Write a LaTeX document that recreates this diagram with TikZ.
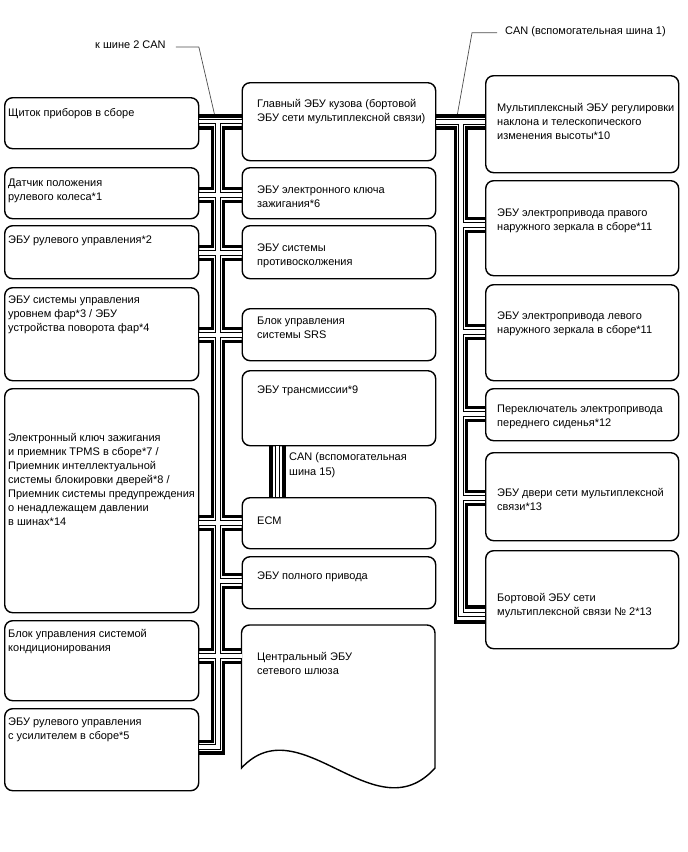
\documentclass[tikz,border=0pt]{standalone}
\usepackage{fontspec}
\setmainfont{Liberation Sans}
\begin{document}
\begin{tikzpicture}[x=1pt,y=-1pt,
  box/.style={draw, line width=1.4, rounded corners=8, inner sep=0, anchor=north west},
  ghost/.style={inner sep=0, anchor=north west},
  txt/.style={anchor=north west, align=left, inner sep=0, font=\fontsize{11}{14}\selectfont},
  thk/.style={line width=3.3},
  dbl/.style={line width=1, double=white, double distance=3.2},
  lead/.style={draw=black!70, line width=0.7}]
\useasboundingbox (0,0) rectangle (688,852);
\def\xL{212.3}\def\xC{218}\def\xR{223.7}
\def\xLL{455.2}\def\xCC{461}\def\xRR{466.8}

% boxes (left column)
\node[box, minimum width=194, minimum height=51]  (L1) at (4,97) {};
\node[box, minimum width=194, minimum height=51]  (L2) at (4,167) {};
\node[box, minimum width=194, minimum height=53]  (L3) at (4,225) {};
\node[box, minimum width=194, minimum height=93]  (L4) at (4,287) {};
\node[box, minimum width=194, minimum height=224] (L5) at (4,388) {};
\node[box, minimum width=194, minimum height=80]  (L6) at (4,620) {};
\node[box, minimum width=194, minimum height=82]  (L7) at (4,708) {};
% middle column
\node[box, minimum width=193.5, minimum height=78] (M1) at (241.5,82) {};
\node[box, minimum width=193.5, minimum height=51] (M2) at (241.5,167) {};
\node[box, minimum width=193.5, minimum height=53] (M3) at (241.5,225) {};
\node[box, minimum width=193.5, minimum height=52] (M4) at (241.5,308) {};
\node[box, minimum width=193.5, minimum height=75] (M5) at (241.5,370) {};
\node[box, minimum width=193.5, minimum height=51] (ECM) at (241.5,497) {};
\node[box, minimum width=193.5, minimum height=52] (M6) at (241.5,556) {};
\node[ghost, minimum width=193.5, minimum height=143] (GW) at (241.5,625) {};
\draw[line width=1.4] (241.5,768) -- (241.5,633) arc[start angle=180, end angle=270, radius=8]
  -- (427,625) arc[start angle=270, end angle=360, radius=8] -- (435,768)
  .. controls (375,835) and (300,705) .. (241.5,768) -- cycle;
% right column
\node[box, minimum width=193, minimum height=97] (R1) at (485,75) {};
\node[box, minimum width=193, minimum height=95] (R2) at (485,180) {};
\node[box, minimum width=193, minimum height=96] (R3) at (485,284) {};
\node[box, minimum width=193, minimum height=52] (R4) at (485,388) {};
\node[box, minimum width=193, minimum height=88] (R5) at (485,452) {};
\node[box, minimum width=193, minimum height=98] (R6) at (485,550) {};

% texts
\node[txt] (tL1) at (8,108) {Щиток приборов в сборе};
\node[txt] (tL2) at (8,179) {Датчик положения\\рулевого колеса*1};
\node[txt] (tL3) at (8,236) {ЭБУ рулевого управления*2};
\node[txt] (tL4) at (8,296) {ЭБУ системы управления\\уровнем фар*3 / ЭБУ\\устройства поворота фар*4};
\node[txt] (tL5) at (8,433) {Электронный ключ зажигания\\и приемник TPMS в сборе*7 /\\Приемник интеллектуальной\\системы блокировки дверей*8 /\\Приемник системы предупреждения\\о ненадлежащем давлении\\в шинах*14};
\node[txt] (tL6) at (8,629) {Блок управления системой\\кондиционирования};
\node[txt] (tL7) at (8,718) {ЭБУ рулевого управления\\с усилителем в сборе*5};
\node[txt] (tM1) at (257,99) {Главный ЭБУ кузова (бортовой\\ЭБУ сети мультиплексной связи)};
\node[txt] (tM2) at (257,186) {ЭБУ электронного ключа\\зажигания*6};
\node[txt] (tM3) at (257,244) {ЭБУ системы\\противосколжения};
\node[txt] (tM4) at (257,317) {Блок управления\\системы SRS};
\node[txt] (tM5) at (257,386) {ЭБУ трансмиссии*9};
\node[txt] (tECM) at (257,517) {ECM};
\node[txt] (tM6) at (257,572) {ЭБУ полного привода};
\node[txt] (tGW) at (257,652) {Центральный ЭБУ\\сетевого шлюза};
\node[txt] (tR1) at (497,103) {Мультиплексный ЭБУ регулировки\\наклона и телескопического\\изменения высоты*10};
\node[txt] (tR2) at (497,209) {ЭБУ электропривода правого\\наружного зеркала в сборе*11};
\node[txt] (tR3) at (497,312) {ЭБУ электропривода левого\\наружного зеркала в сборе*11};
\node[txt] (tR4) at (497,405) {Переключатель электропривода\\переднего сиденья*12};
\node[txt] (tR5) at (497,488) {ЭБУ двери сети мультиплексной\\связи*13};
\node[txt] (tR6) at (497,593) {Бортовой ЭБУ сети\\мультиплексной связи № 2*13};
\node[txt, font=\fontsize{11}{15}\selectfont] (tC15) at (289,452) {CAN (вспомогательная\\шина 15)};
\node[txt] (lab2) at (95,41) {к шине 2 CAN};
\node[txt] (lab1) at (505,26) {CAN (вспомогательная шина 1)};

% leaders
\coordinate (k2) at (215,116.5);
\coordinate (k1) at (457,116.5);
\draw[lead] ([xshift=10pt,yshift=-2pt]lab2.east) -- ++(23,0) -- (k2);
\draw[lead] ([xshift=-8pt,yshift=-1.5pt]lab1.west) -- ++(-25,0) -- (k1);

% ---- left bus ----
\draw[thk] (L1.east |- 0,116) -- (M1.west |- 0,116);
\draw[thk] (L1.east |- 0,128) -| (\xL,188.5) -- (L2.east |- 0,188.5);
\draw[thk] (L2.east |- 0,201.5) -| (\xL,246.5) -- (L3.east |- 0,246.5);
\draw[thk] (L3.east |- 0,259.5) -| (\xL,328.5) -- (L4.east |- 0,328.5);
\draw[thk] (L4.east |- 0,341.5) -| (\xL,516.5) -- (L5.east |- 0,516.5);
\draw[thk] (L5.east |- 0,529.5) -| (\xL,649.5) -- (L6.east |- 0,649.5);
\draw[thk] (L6.east |- 0,662.5) -| (\xL,741.5) -- (L7.east |- 0,741.5);
\draw[thk] (M1.west |- 0,128) -| (\xR,188.5) -- (M2.west |- 0,188.5);
\draw[thk] (M2.west |- 0,201.5) -| (\xR,246.5) -- (M3.west |- 0,246.5);
\draw[thk] (M3.west |- 0,259.5) -| (\xR,328.5) -- (M4.west |- 0,328.5);
\draw[thk] (M4.west |- 0,341.5) -| (\xR,516.5) -- (ECM.west |- 0,516.5);
\draw[thk] (ECM.west |- 0,529.5) -| (\xR,574.5) -- (M6.west |- 0,574.5);
\draw[thk] (M6.west |- 0,587.5) -| (\xR,649.5) -- (GW.west |- 0,649.5);
\draw[thk] (GW.west |- 0,662.5) -| (\xR,753) -- (L7.east |- 0,753);
\draw[dbl] (\xC,121.5) -- (\xC,747) -- (L7.east |- 0,747)
  (L1.east |- 0,121.5) -- (M1.west |- 0,121.5)
  (L2.east |- 0,195) -- (M2.west |- 0,195)
  (L3.east |- 0,253) -- (M3.west |- 0,253)
  (L4.east |- 0,335) -- (M4.west |- 0,335)
  (L5.east |- 0,523) -- (ECM.west |- 0,523)
  (\xC,581) -- (M6.west |- 0,581)
  (L6.east |- 0,656) -- (GW.west |- 0,656);

% ---- right bus ----
\draw[thk] (M1.east |- 0,116) -- (R1.west |- 0,116);
\draw[thk] (M1.east |- 0,128) -| (\xLL,622) -- (R6.west |- 0,622);
\draw[thk] (R1.west |- 0,128) -| (\xRR,218.5) -- (R2.west |- 0,218.5);
\draw[thk] (R2.west |- 0,231.5) -| (\xRR,325.5) -- (R3.west |- 0,325.5);
\draw[thk] (R3.west |- 0,338.5) -| (\xRR,407.5) -- (R4.west |- 0,407.5);
\draw[thk] (R4.west |- 0,420.5) -| (\xRR,491.5) -- (R5.west |- 0,491.5);
\draw[thk] (R5.west |- 0,504.5) -| (\xRR,607) -- (R6.west |- 0,607);
\draw[dbl] (\xCC,122) -- (\xCC,614.5) -- (R6.west |- 0,614.5)
  (M1.east |- 0,122) -- (R1.west |- 0,122)
  (\xCC,225) -- (R2.west |- 0,225)
  (\xCC,332) -- (R3.west |- 0,332)
  (\xCC,414) -- (R4.west |- 0,414)
  (\xCC,498) -- (R5.west |- 0,498);

% ---- CAN 15 ----
\draw[thk] (M5.south -| 271,0) -- (ECM.north -| 271,0);
\draw[thk] (M5.south -| 284,0) -- (ECM.north -| 284,0);
\draw[dbl] (M5.south -| 277.5,0) -- (ECM.north -| 277.5,0);
\end{tikzpicture}
\end{document}
